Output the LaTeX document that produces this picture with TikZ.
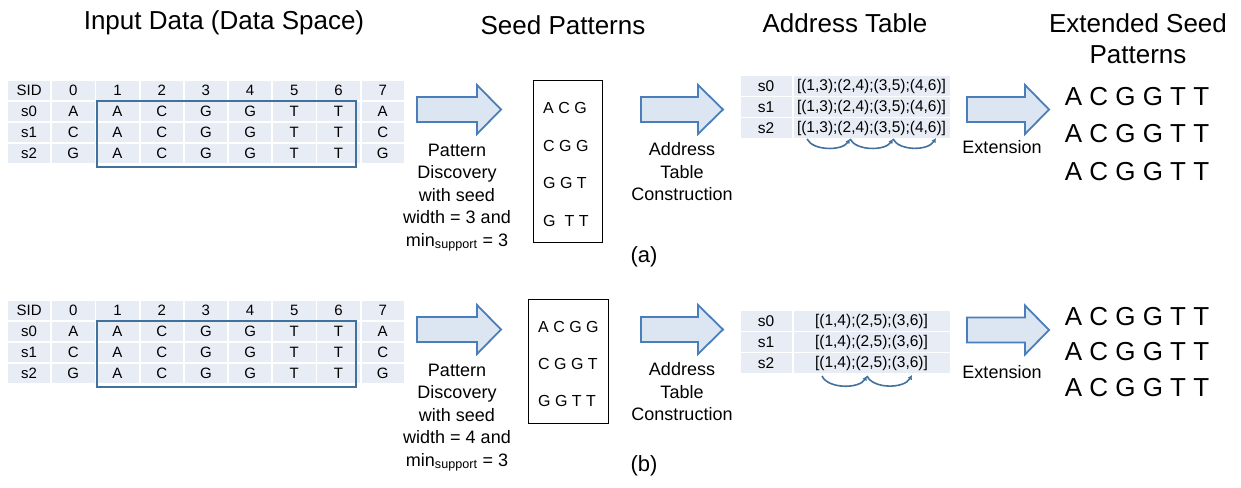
\documentclass[tikz,border=0pt]{standalone}
\usepackage{fontspec}
\setmainfont{Liberation Sans}
\usetikzlibrary{arrows.meta}
\definecolor{cellbg}{HTML}{E8EDF5}
\definecolor{arrfill}{HTML}{DCE6F2}
\definecolor{arrline}{HTML}{4A7EBB}
\definecolor{boxline}{HTML}{41719C}
\tikzset{
 cell/.style={fill=cellbg, minimum width=42.4pt, minimum height=19.5pt, inner sep=0pt, font=\fontsize{15}{17}\selectfont},
 acell/.style={fill=cellbg, minimum height=19.5pt, inner sep=0pt, font=\fontsize{15.5}{17}\selectfont},
 blockarr/.style={draw=arrline, fill=arrfill, line width=1.8pt, line join=miter},
 tablebox/.style={draw=boxline, line width=2pt},
 title/.style={font=\fontsize{26}{31}\selectfont, align=center, inner sep=0pt},
 lbl/.style={font=\fontsize{18}{22.5}\selectfont, align=center, inner sep=0pt},
 seedtxt/.style={font=\fontsize{16}{19}\selectfont, anchor=west, inner sep=0pt},
 ext/.style={font=\fontsize{26}{30}\selectfont, inner sep=0pt},
 curv/.style={draw=boxline, line width=1.6pt, -{Latex[length=4.5pt,width=5pt]}},
 seedbox/.style={draw, line width=1pt, inner sep=0pt},
}
\newcommand\cellrow[4]{%
 \foreach \t [count=\c from 0] in {#4} {
   \node[cell] (#1-#2-\c) at ({7+44.2*(\c+0.5)}, {#3+80+21*(#2+0.5)}) {\t};
 }}
\newcommand\bigarrow[5]{% x0, x1, ymid, headlen, name
 \draw[blockarr] (#1,#3-12.5) -- (#2-#4,#3-12.5) -- (#2-#4,#3-24.5) -- (#2,#3)
   -- (#2-#4,#3+24.5) -- (#2-#4,#3+12.5) -- (#1,#3+12.5) -- cycle;
 \coordinate (#5) at ({(#1+#2)/2},#3);}
\begin{document}
\begin{tikzpicture}[x=1pt,y=-1pt]
\useasboundingbox (0,0) rectangle (1241,487);
% titles
\node[title] (t1) at (224,23) {Input Data (Data Space)};
\node[title] (t2) at (563,25) {Seed Patterns};
\node[title] (t3) at (845,23) {Address Table};
\node[title] (t4) at (1138,39) {Extended Seed\\Patterns};

% ===== (a) =====
\cellrow{a}{0}{0}{SID,0,1,2,3,4,5,6,7}
\cellrow{a}{1}{0}{s0,A,A,C,G,G,T,T,A}
\cellrow{a}{2}{0}{s1,C,A,C,G,G,T,T,C}
\cellrow{a}{3}{0}{s2,G,A,C,G,G,T,T,G}
\draw[tablebox] ([xshift=1pt,yshift=1pt]a-1-2.north west) rectangle ([xshift=-4pt,yshift=-4pt]a-3-7.south east);

\bigarrow{417}{501}{109.5}{24}{arA1}
\node[lbl] (pdA) at (457,197.5) {Pattern\\Discovery\\with seed\\width = 3 and\\min\textsubscript{support} = 3};
\node[seedbox, minimum width=69pt, minimum height=162pt] (seedA) at (567.5,161) {};
\node[seedtxt] (sa1) at (543,108) {A C G};
\node[seedtxt] (sa2) at (543,146) {C G G};
\node[seedtxt] (sa3) at (543,183) {G G T};
\node[seedtxt] (sa4) at (543,221) {G \ T T};
\bigarrow{641}{723}{109.5}{25}{arA2}
\node[lbl] (atcA) at (682,172) {Address\\Table\\Construction};
\node[font=\fontsize{22}{26}\selectfont] (capA) at (644,257) {(a)};

\node[acell, minimum width=51pt] (aa-0-0) at (766,86) {s0};
\node[acell, minimum width=156pt] (aa-0-1) at (871.5,86) {[(1,3);(2,4);(3,5);(4,6)]};
\node[acell, minimum width=51pt] (aa-1-0) at (766,107) {s1};
\node[acell, minimum width=156pt] (aa-1-1) at (871.5,107) {[(1,3);(2,4);(3,5);(4,6)]};
\node[acell, minimum width=51pt] (aa-2-0) at (766,128) {s2};
\node[acell, minimum width=156pt] (aa-2-1) at (871.5,128) {[(1,3);(2,4);(3,5);(4,6)]};
\coordinate (ca1) at (807,139);
\coordinate (ca2) at (850,139);
\coordinate (ca3) at (893,139);
\coordinate (ca4) at (936,138);
\draw[curv] (ca1) .. controls (813,151) and (842,151) .. (ca2);
\draw[curv] (ca2) .. controls (856,151) and (885,151) .. (ca3);
\draw[curv] (ca3) .. controls (899,151) and (928,151) .. (ca4);

\bigarrow{967}{1049}{109.5}{24}{arA3}
\node[lbl] (exA) at (1002,147) {Extension};
\node[ext] (ea1) at (1137,97) {A C G G T T};
\node[ext] (ea2) at (1137,134) {A C G G T T};
\node[ext] (ea3) at (1137,172) {A C G G T T};

% ===== (b) =====
\cellrow{b}{0}{220}{SID,0,1,2,3,4,5,6,7}
\cellrow{b}{1}{220}{s0,A,A,C,G,G,T,T,A}
\cellrow{b}{2}{220}{s1,C,A,C,G,G,T,T,C}
\cellrow{b}{3}{220}{s2,G,A,C,G,G,T,T,G}
\draw[tablebox] ([xshift=1pt,yshift=1pt]b-1-2.north west) rectangle ([xshift=-4pt,yshift=-4pt]b-3-7.south east);

\bigarrow{417}{501}{329.5}{24}{arB1}
\node[lbl] (pdB) at (457,417.5) {Pattern\\Discovery\\with seed\\width = 4 and\\min\textsubscript{support} = 3};
\node[seedbox, minimum width=80pt, minimum height=124pt] (seedB) at (568,361) {};
\node[seedtxt] (sb1) at (538,327) {A C G G};
\node[seedtxt] (sb2) at (538,364) {C G G T};
\node[seedtxt] (sb3) at (538,401) {G G T T};
\bigarrow{641}{723}{329.5}{25}{arB2}
\node[lbl] (atcB) at (682,392) {Address\\Table\\Construction};
\node[font=\fontsize{22}{26}\selectfont] (capB) at (644,466) {(b)};

\node[acell, minimum width=51pt] (ba-0-0) at (766,321) {s0};
\node[acell, minimum width=156pt] (ba-0-1) at (871.5,321) {[(1,4);(2,5);(3,6)]};
\node[acell, minimum width=51pt] (ba-1-0) at (766,342) {s1};
\node[acell, minimum width=156pt] (ba-1-1) at (871.5,342) {[(1,4);(2,5);(3,6)]};
\node[acell, minimum width=51pt] (ba-2-0) at (766,363) {s2};
\node[acell, minimum width=156pt] (ba-2-1) at (871.5,363) {[(1,4);(2,5);(3,6)]};
\coordinate (cb1) at (822,376);
\coordinate (cb2) at (867,376);
\coordinate (cb3) at (912,375);
\draw[curv] (cb1) .. controls (828,389) and (859,389) .. (cb2);
\draw[curv] (cb2) .. controls (873,389) and (904,389) .. (cb3);

\bigarrow{967}{1049}{330}{24}{arB3}
\node[lbl] (exB) at (1002,372) {Extension};
\node[ext] (eb1) at (1137,317) {A C G G T T};
\node[ext] (eb2) at (1137,352) {A C G G T T};
\node[ext] (eb3) at (1137,388) {A C G G T T};
\end{tikzpicture}
\end{document}
